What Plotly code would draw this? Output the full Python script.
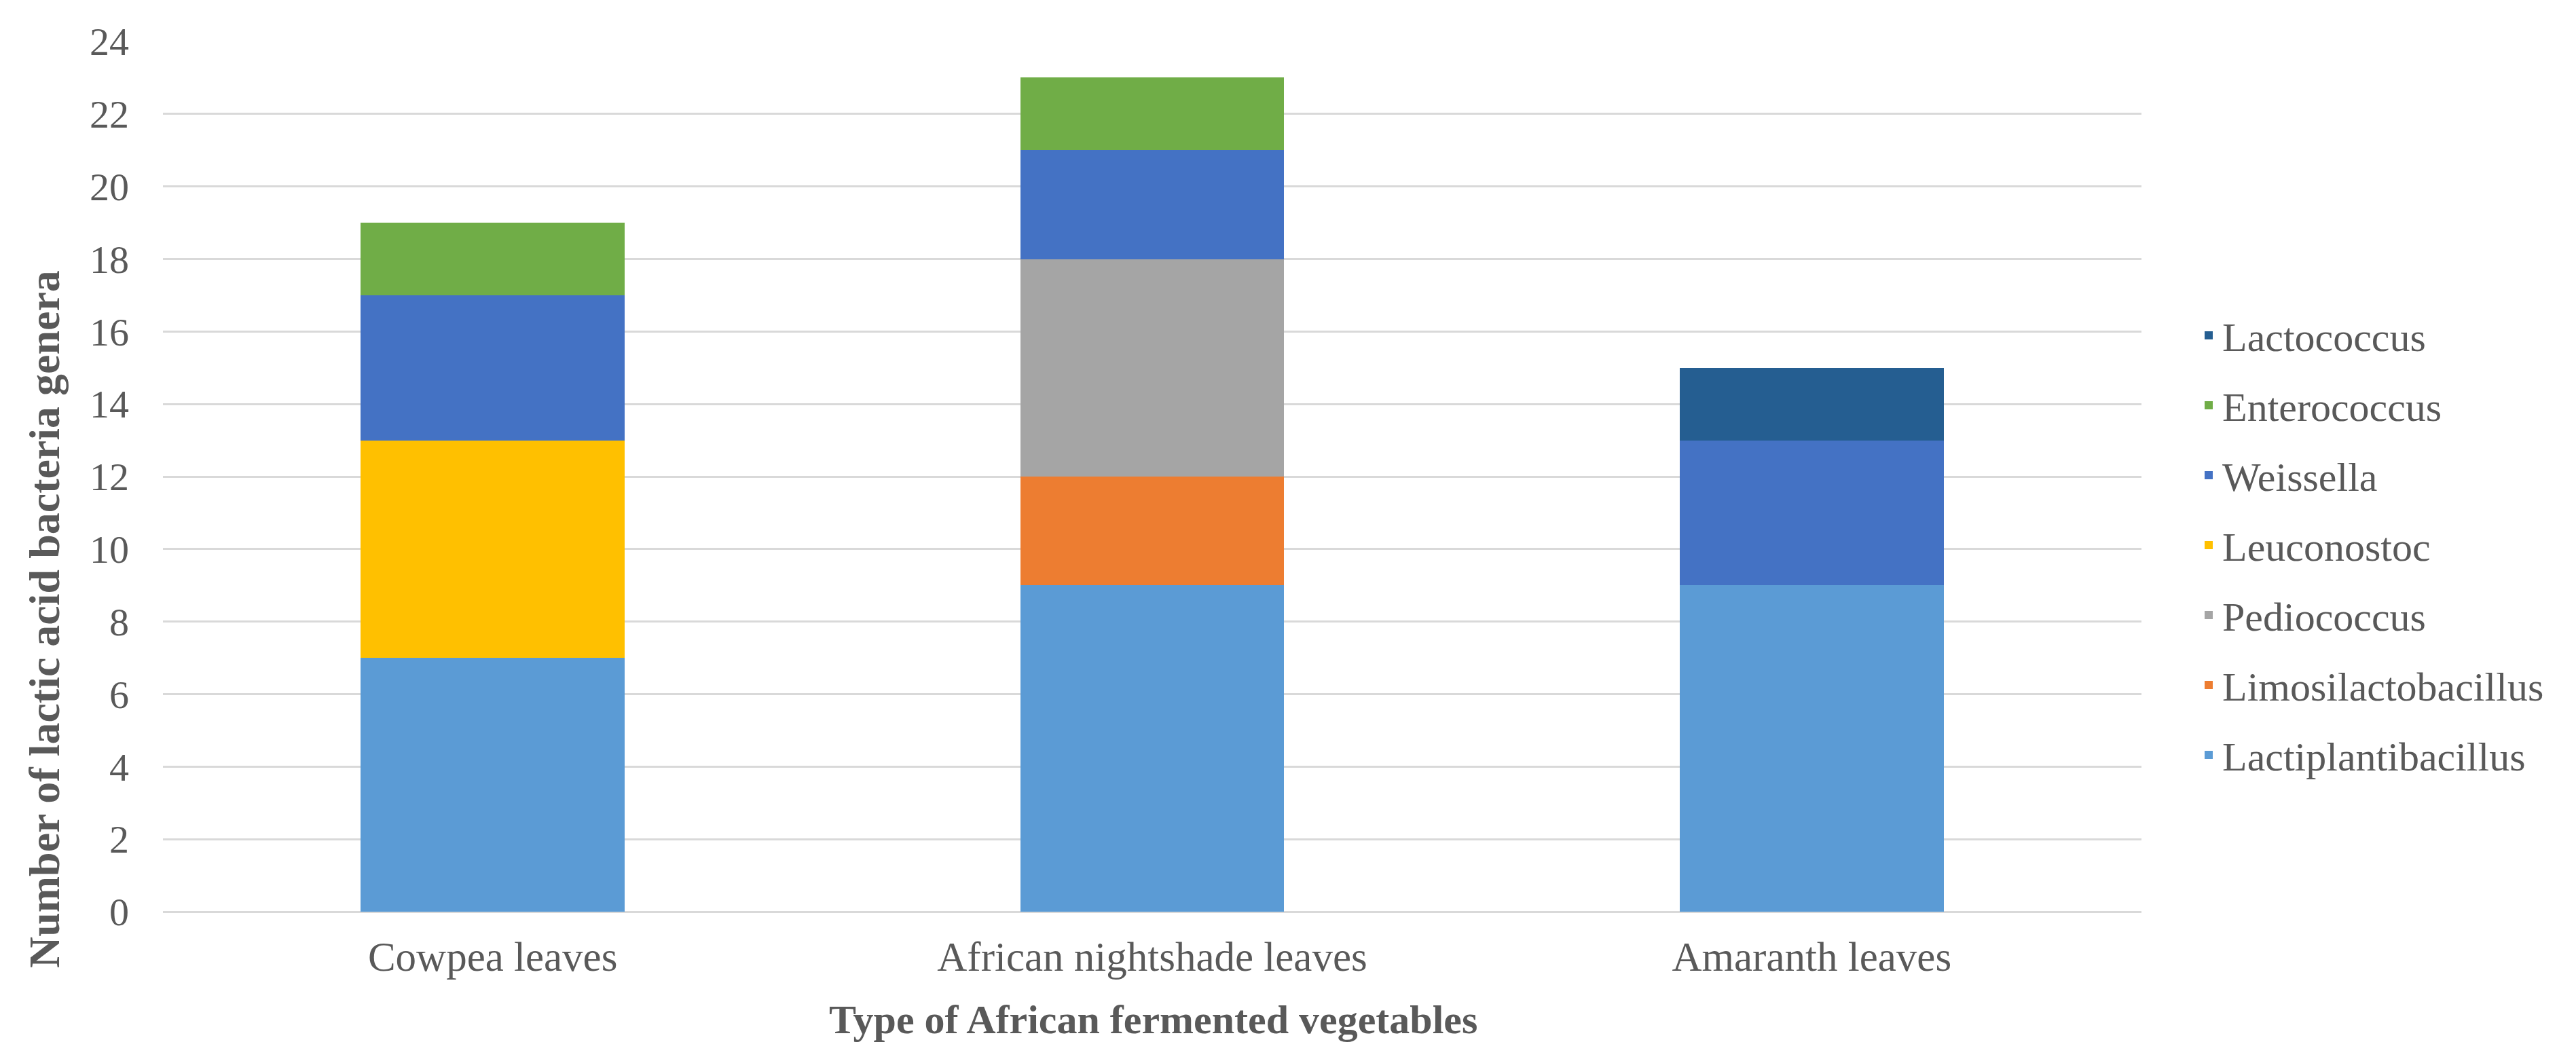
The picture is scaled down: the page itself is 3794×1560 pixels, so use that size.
import plotly.graph_objects as go

categories = ["Cowpea leaves", "African nightshade leaves", "Amaranth leaves"]

genera = ["Lactiplantibacillus", "Limosilactobacillus", "Pediococcus",
          "Leuconostoc", "Weissella", "Enterococcus", "Lactococcus"]

lactiplantibacillus = [7, 9, 9]
limosilactobacillus = [0, 3, 0]
pediococcus = [0, 6, 0]
leuconostoc = [6, 0, 0]
weissella = [4, 3, 4]
enterococcus = [2, 2, 0]
lactococcus = [0, 0, 2]

series_values = [lactiplantibacillus, limosilactobacillus, pediococcus,
                 leuconostoc, weissella, enterococcus, lactococcus]

colors = ["#5B9BD5", "#ED7D31", "#A5A5A5", "#FFC000", "#4472C4", "#70AD47", "#255E91"]

y_ticks = list(range(0, 25, 2))

FONT = "Liberation Serif, Times New Roman, serif"
TXT = "#595959"

W, H = 3794, 1560
L, R, T, B = 232, 648, 53, 225
pw = W - L - R
ph = H - T - B

fig = go.Figure()
n = len(genera)
for i, (name, vals, col) in enumerate(zip(genera, series_values, colors)):
    fig.add_trace(go.Bar(
        x=categories, y=vals, name=name, legendgroup=name,
        legendrank=n - i,
        marker=dict(color=col, line=dict(width=0)),
    ))

fig.update_layout(
    width=W, height=H,
    barmode="stack", bargap=0.6,
    plot_bgcolor="white", paper_bgcolor="white",
    margin=dict(l=L, r=R, t=T, b=B, autoexpand=False),
    font=dict(family=FONT, size=58, color=TXT),
    showlegend=True,
    legend=dict(
        x=(3225 - L) / pw, xanchor="left",
        y=(T + ph - 795) / ph, yanchor="middle",
        traceorder="grouped", tracegroupgap=22,
        font=dict(family=FONT, size=60, color=TXT),
        bgcolor="rgba(0,0,0,0)",
    ),
    xaxis=dict(
        showgrid=False, showline=False, zeroline=False,
        tickfont=dict(family=FONT, size=61, color=TXT),
        ticks="", ticklabelstandoff=25,
    ),
    yaxis=dict(
        range=[0, 24], tickvals=y_ticks,
        showgrid=True, gridcolor="#D9D9D9", gridwidth=3,
        zeroline=True, zerolinecolor="#D9D9D9", zerolinewidth=3,
        showline=False, ticks="", ticklabelstandoff=49,
        tickfont=dict(family=FONT, size=58, color=TXT),
    ),
    annotations=[
        dict(text="<b>Type of African fermented vegetables</b>",
             xref="paper", yref="paper",
             x=(1690 - L) / pw, y=(T + ph - 1494) / ph,
             xanchor="center", yanchor="middle", showarrow=False,
             font=dict(family=FONT, size=60, color=TXT)),
        dict(text="<b>Number of lactic acid bacteria genera</b>",
             xref="paper", yref="paper",
             x=(57 - L) / pw, y=(T + ph - 904) / ph,
             xanchor="center", yanchor="middle", showarrow=False, textangle=-90,
             font=dict(family=FONT, size=64, color=TXT)),
    ],
)

fig.write_html("out.html")
